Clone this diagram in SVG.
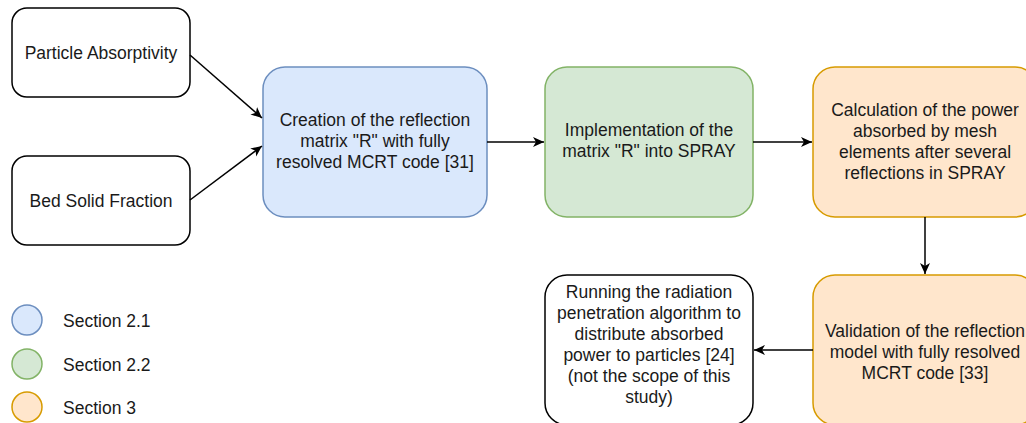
<svg xmlns="http://www.w3.org/2000/svg" width="1026" height="423" viewBox="0 0 1026 423">
  <style>
    .lbl { font-family: "Liberation Sans", Arial, sans-serif; font-size: 17.5px; fill: #1a1a1a; text-anchor: middle; }
    .leg { font-family: "Liberation Sans", Arial, sans-serif; font-size: 17.5px; fill: #1a1a1a; }
    .plain { fill: #ffffff; stroke: #000000; stroke-width: 1.5; }
    .blue { fill: #dae8fc; stroke: #6c8ebf; stroke-width: 1.5; }
    .green { fill: #d5e8d4; stroke: #82b366; stroke-width: 1.5; }
    .orange { fill: #ffe6cc; stroke: #d79b00; stroke-width: 1.5; }
    .edge { fill: none; stroke: #000000; stroke-width: 1.5; marker-end: url(#arrow); }
  </style>
  <defs>
    <marker id="arrow" viewBox="0 0 12 12" refX="11" refY="6" markerWidth="12" markerHeight="12" markerUnits="userSpaceOnUse" orient="auto">
      <path d="M0,1 L11,6 L0,11 L3,6 Z" fill="#000000"/>
    </marker>
  </defs>
  <rect width="1026" height="423" fill="#ffffff"/>

  <g id="particle-absorptivity">
    <rect class="plain" x="12" y="8" width="178" height="89" rx="15"/>
    <text class="lbl" x="101" y="59">Particle Absorptivity</text>
  </g>

  <g id="bed-solid-fraction">
    <rect class="plain" x="12" y="156" width="178" height="89" rx="15"/>
    <text class="lbl" x="101" y="207">Bed Solid Fraction</text>
  </g>

  <g id="reflection-matrix">
    <rect class="blue" x="263" y="67" width="224" height="150" rx="22"/>
    <text class="lbl" x="375" y="126">Creation of the reflection</text>
    <text class="lbl" x="375" y="147">matrix "R" with fully</text>
    <text class="lbl" x="375" y="168">resolved MCRT code [31]</text>
  </g>

  <g id="implementation">
    <rect class="green" x="545" y="67" width="208" height="150" rx="22"/>
    <text class="lbl" x="649" y="136">Implementation of  the</text>
    <text class="lbl" x="649" y="157">matrix "R" into SPRAY</text>
  </g>

  <g id="power-calculation">
    <rect class="orange" x="813" y="67" width="224" height="150" rx="22"/>
    <text class="lbl" x="925" y="116">Calculation of the power</text>
    <text class="lbl" x="925" y="137">absorbed by mesh</text>
    <text class="lbl" x="925" y="158">elements after several</text>
    <text class="lbl" x="925" y="179">reflections in SPRAY</text>
  </g>

  <g id="validation">
    <rect class="orange" x="813" y="275" width="224" height="150" rx="22"/>
    <text class="lbl" x="925" y="337">Validation of the reflection</text>
    <text class="lbl" x="925" y="358">model with fully resolved</text>
    <text class="lbl" x="925" y="379">MCRT code [33]</text>
  </g>

  <g id="radiation-penetration">
    <rect class="plain" x="545" y="275" width="208" height="150" rx="22"/>
    <text class="lbl" x="649" y="298">Running the radiation</text>
    <text class="lbl" x="649" y="319">penetration algorithm to</text>
    <text class="lbl" x="649" y="340">distribute absorbed</text>
    <text class="lbl" x="649" y="361">power to particles [24]</text>
    <text class="lbl" x="649" y="382">(not the scope of this</text>
    <text class="lbl" x="649" y="403">study)</text>
  </g>

  <g id="legend">
    <circle class="blue" cx="27" cy="320" r="15"/>
    <text class="leg" x="63" y="327">Section 2.1</text>
    <circle class="green" cx="27" cy="364" r="15"/>
    <text class="leg" x="63" y="371">Section 2.2</text>
    <circle class="orange" cx="27" cy="407" r="15"/>
    <text class="leg" x="63" y="414">Section 3</text>
  </g>

  <g id="connectors">
    <line class="edge" x1="190" y1="55" x2="262" y2="118"/>
    <line class="edge" x1="190" y1="200" x2="262" y2="146"/>
    <line class="edge" x1="487" y1="142" x2="544" y2="142"/>
    <line class="edge" x1="753" y1="142" x2="812" y2="142"/>
    <line class="edge" x1="925" y1="217" x2="925" y2="274"/>
    <line class="edge" x1="813" y1="350" x2="754" y2="350"/>
  </g>
</svg>
